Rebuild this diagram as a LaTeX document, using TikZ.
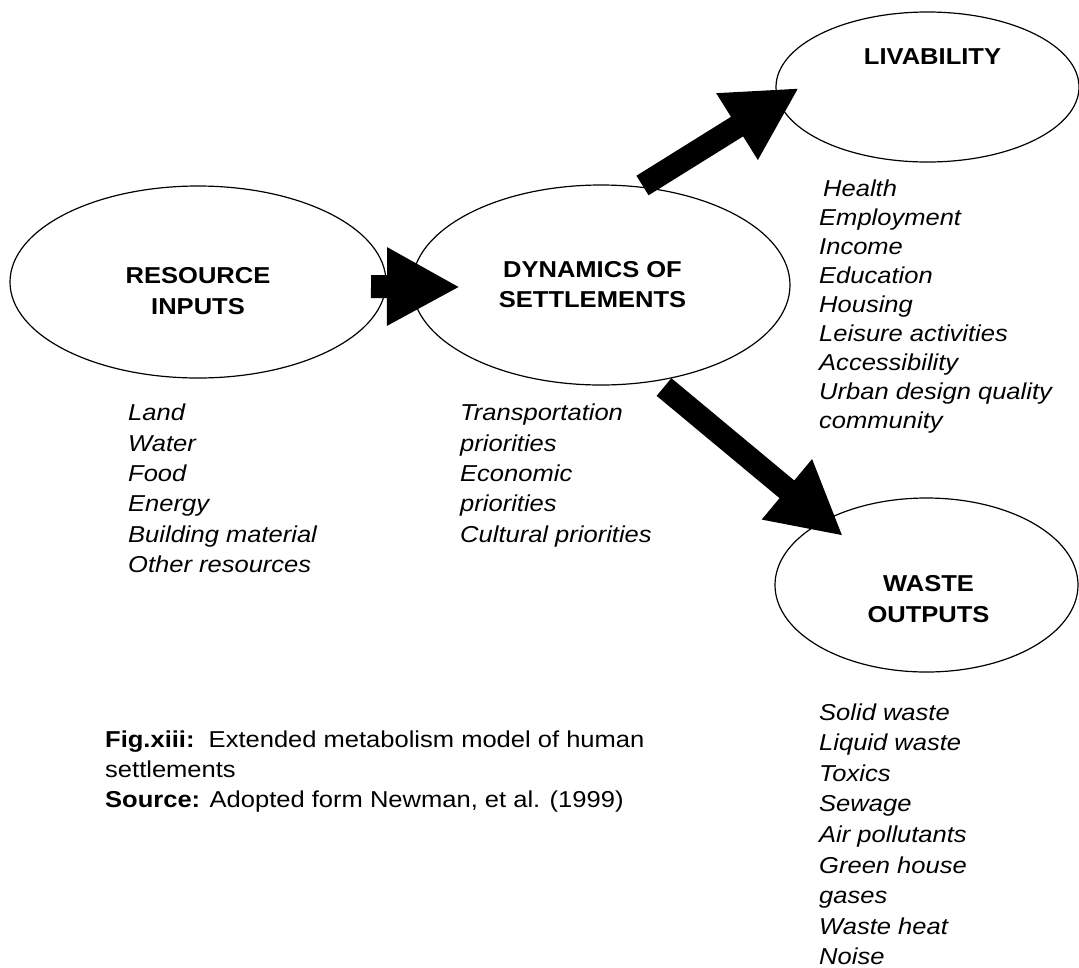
\documentclass[tikz,border=0pt]{standalone}
\usepackage{fontspec}
\setmainfont{Liberation Sans}[FakeStretch=1.11]
\usetikzlibrary{shapes.geometric,arrows.meta}

\begin{document}
\begin{tikzpicture}[x=1pt,y=-1pt,
  oval/.style={draw, line width=1.2pt, ellipse, inner sep=0pt},
  title/.style={font=\fontsize{23}{30.5}\selectfont\bfseries, align=center, inner sep=0pt},
  % lists are placed by the baseline of their last line
  items/.style={font=\fontsize{23}{#1}\selectfont\itshape, align=left, inner sep=0pt, anchor=base west},
  items/.default=30.4,
  caption/.style={font=\fontsize{23}{30}\selectfont, align=left, inner sep=0pt, anchor=base west},
  bigarrow/.style={line width=23pt, -{Triangle[length=73pt,width=73pt]}}
]
\useasboundingbox (0,0) rectangle (1079,967);

% the four stages of the model
\node[oval, minimum width=376pt, minimum height=192pt] (res) at (198,282) {};
\node[oval, minimum width=378pt, minimum height=200pt] (dyn) at (601,285) {};
\node[oval, minimum width=303pt, minimum height=150pt] (liv) at (927.5,87) {};
\node[oval, minimum width=303pt, minimum height=174pt] (was) at (926.5,585) {};

\node[title] (resT) at (198,291) {RESOURCE\\INPUTS};
\node[title] (dynT) at (592.5,284.5) {DYNAMICS OF\\SETTLEMENTS};
\node[title] (livT) at (932.5,56.5) {LIVABILITY};
\node[title] (wasT) at (928.5,599) {WASTE\\OUTPUTS};

% block arrows between the stages
\coordinate (a1s) at (371,286.5);
\coordinate (a1t) at (460,287);
\coordinate (a2s) at (642.5,185.5);
\coordinate (a2t) at (799,88);
\coordinate (a3s) at (664,387);
\coordinate (a3t) at (843,536);
\draw[bigarrow] (a1s) -- (a1t);
\draw[bigarrow] (a2s) -- (a2t);
\draw[bigarrow] (a3s) -- (a3t);

% lists under each stage
\node[items] (inL) at (128,572.7) {Land\\Water\\Food\\Energy\\Building material\\Other resources};
\node[items] (prL) at (460,542.3) {Transportation\\priorities\\Economic\\priorities\\Cultural priorities};
\node[items=29.05] (lvL) at (819,428.8) {\hspace{4pt}Health\\Employment\\Income\\Education\\Housing\\Leisure activities\\Accessibility\\Urban design quality\\community};
\node[items=30.6] (wsL) at (819,964.8) {Solid waste\\Liquid waste\\Toxics\\Sewage\\Air pollutants\\Green house\\gases\\Waste heat\\Noise};

% figure caption
\node[caption] (cap) at (105,807.3) {\textbf{Fig.xiii:}\ \ Extended metabolism model of human\\settlements\\\textbf{Source:} Adopted form Newman, et al. (1999)};
\end{tikzpicture}
\end{document}
